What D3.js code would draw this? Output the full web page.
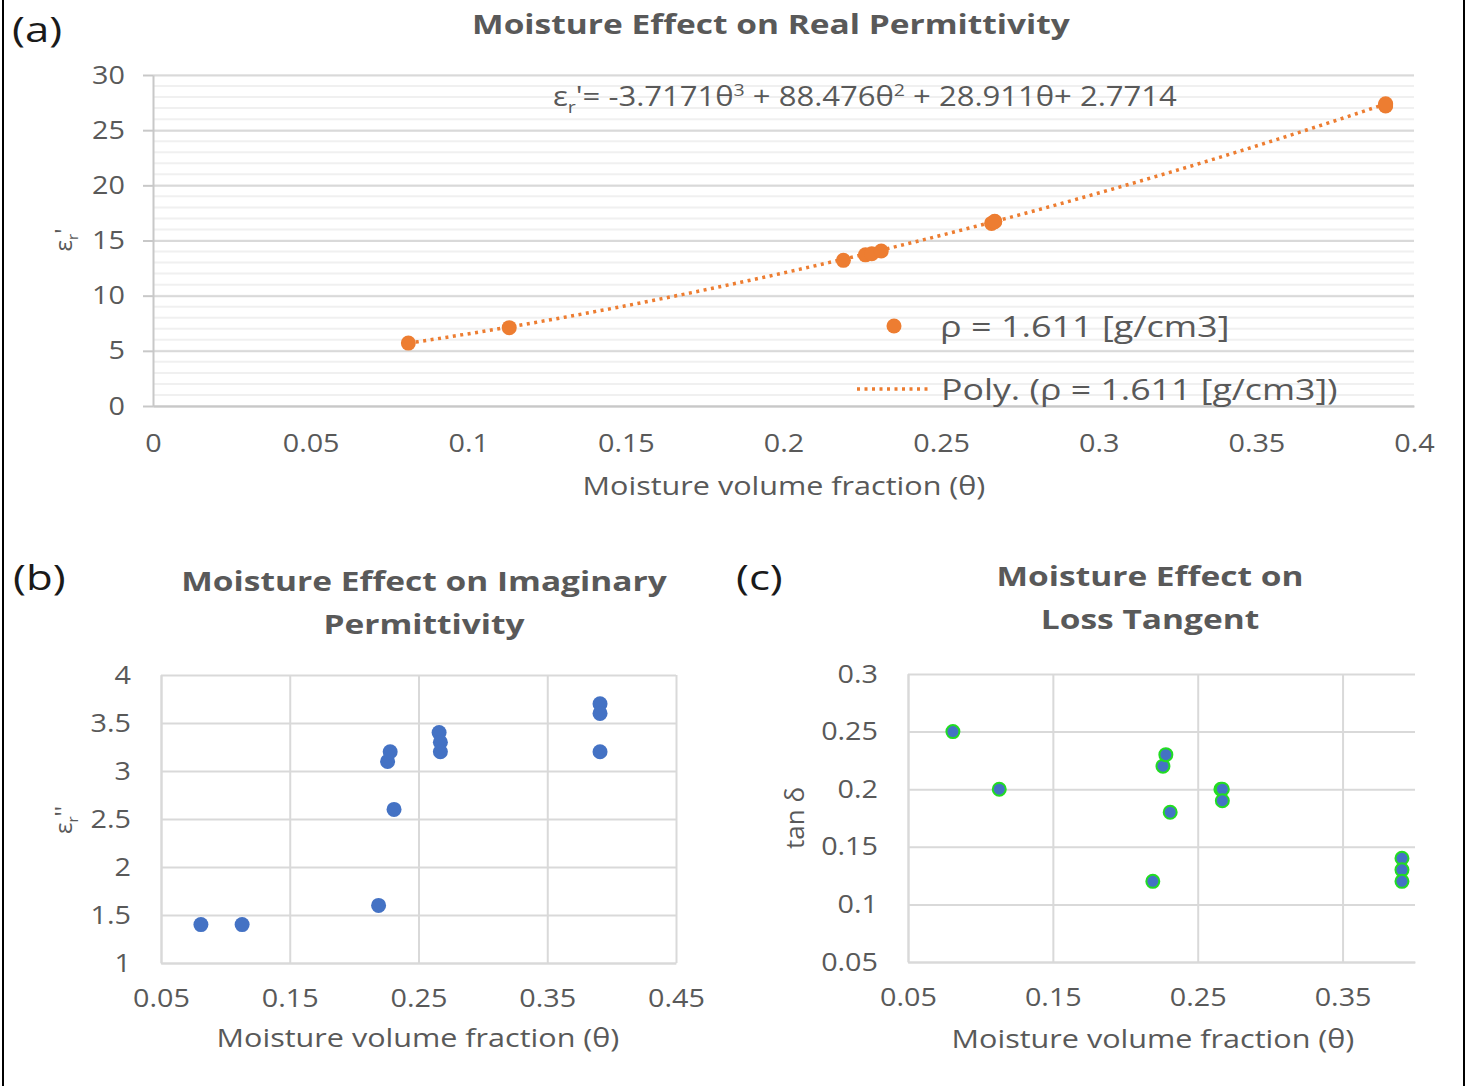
<!DOCTYPE html>
<html>
<head>
<meta charset="utf-8">
<script src="https://cdn.jsdelivr.net/npm/d3@7"></script>
<style>
body { margin: 0; background: #fff; }
svg { display: block; }
text { font-family: 'Open Sans', sans-serif; fill: #595959; }
</style>
</head>
<body>
<svg width="1467" height="1086"></svg>
<script>
// data
var theta    = [0.081, 0.113, 0.219, 0.226, 0.228, 0.231, 0.266, 0.267, 0.267, 0.391, 0.391, 0.391];
var epsReal  = [5.7, 7.1, 13.2, 13.7, 13.8, 14.05, 16.55, 16.7, 16.75, 27.2, 27.3, 27.4];
var epsImag  = [1.4, 1.4, 1.6, 3.1, 3.2, 2.6, 3.4, 3.3, 3.2, 3.7, 3.6, 3.2];
var lossTan  = [0.25, 0.2, 0.12, 0.22, 0.23, 0.18, 0.2, 0.2, 0.19, 0.14, 0.13, 0.12];
// Excel poly trendline coefficients (θ^3, θ^2, θ, 1)
var polyCoef = [-3.7171, 88.476, 28.911, 2.7714];

var xTicksA = [0, 0.05, 0.1, 0.15, 0.2, 0.25, 0.3, 0.35, 0.4];
var yTicksA = [0, 5, 10, 15, 20, 25, 30];
var xTicksB = [0.05, 0.15, 0.25, 0.35, 0.45];
var yTicksB = [1, 1.5, 2, 2.5, 3, 3.5, 4];
var xTicksC = [0.05, 0.15, 0.25, 0.35];
var yTicksC = [0.05, 0.1, 0.15, 0.2, 0.25, 0.3];

var svg = d3.select("svg");
svg.append("rect").attr("width", 1467).attr("height", 1086).attr("fill", "#fff");

// frame
svg.append("line").attr("x1", 3).attr("x2", 3).attr("y1", 0).attr("y2", 1086)
    .attr("stroke", "#000").attr("stroke-width", 2);
svg.append("line").attr("x1", 1464).attr("x2", 1464).attr("y1", 0).attr("y2", 1086)
    .attr("stroke", "#000").attr("stroke-width", 2);

var gridCol = "#d9d9d9", minorCol = "#f0f0f0", axisCol = "#c8c8c8";

// the source picture is a bit wider than tall, stretch text horizontally
function hs(sel, k){
    sel.each(function(){
        var t = d3.select(this);
        var x = +t.attr("x") || 0;
        t.attr("x", x / k).attr("transform", "scale(" + k + ",1)");
    });
}

function styleAxis(g, size){
    g.selectAll("text").style("font-size", size + "px").attr("fill", "#595959")
        .style("font-family", "'Open Sans', sans-serif");
    g.select(".domain").attr("stroke", axisCol).attr("stroke-width", 2);
    g.selectAll(".tick line").attr("stroke", axisCol).attr("stroke-width", 2);
    hs(g.selectAll("text"), 1.15);
}

function panelLabel(txt, x, y){
    svg.append("text").attr("x", x).attr("y", y).style("font-size", "35px")
        .style("fill", "#1a1a1a").text(txt).call(hs, 1.25);
}

// ---------------- (a) ----------------
var xA = d3.scaleLinear().domain([0, 0.4]).range([153, 1414]);
var yA = d3.scaleLinear().domain([0, 30]).range([406, 75]);
var gA = svg.append("g");

gA.selectAll("line.minor")
    .data(yA.ticks(30))
    .enter().append("line")
    .attr("class", "minor")
    .attr("x1", xA(0)).attr("x2", xA(0.4))
    .attr("y1", function(d){ return yA(d) }).attr("y2", function(d){ return yA(d) })
    .attr("stroke", minorCol).attr("stroke-width", 2);

gA.append("g")
    .attr("transform", "translate(" + xA(0) + ",0)")
    .call(d3.axisLeft(yA).tickValues(yTicksA).tickSize(-(xA(0.4) - xA(0))).tickFormat(""))
    .call(function(g){
        g.select(".domain").remove();
        g.selectAll(".tick line").attr("stroke", gridCol).attr("stroke-width", 2);
    });

var axAx = gA.append("g")
    .attr("transform", "translate(0," + yA(0) + ")")
    .call(d3.axisBottom(xA).tickValues(xTicksA).tickSize(0).tickSizeOuter(0).tickPadding(28)
        .tickFormat(function(d){ return String(d) }));
styleAxis(axAx, 25);

var axAy = gA.append("g")
    .attr("transform", "translate(" + xA(0) + ",0)")
    .call(d3.axisLeft(yA).tickValues(yTicksA).tickSize(10).tickSizeOuter(0).tickPadding(18));
styleAxis(axAy, 25);

// trendline
var tr = d3.range(0, 101).map(function(i){
    var t = d3.min(theta) + (d3.max(theta) - d3.min(theta)) * i / 100;
    return [t, polyCoef[0]*t*t*t + polyCoef[1]*t*t + polyCoef[2]*t + polyCoef[3]];
});
gA.append("path")
    .datum(tr)
    .attr("d", d3.line().x(function(d){ return xA(d[0]) }).y(function(d){ return yA(d[1]) }))
    .attr("fill", "none").attr("stroke", "#ed7d31").attr("stroke-width", 3.5)
    .attr("stroke-dasharray", "3,4.5");

gA.selectAll("circle.pt")
    .data(d3.zip(theta, epsReal))
    .enter().append("circle")
    .attr("class", "pt")
    .attr("cx", function(d){ return xA(d[0]) })
    .attr("cy", function(d){ return yA(d[1]) })
    .attr("r", 7.5)
    .attr("fill", "#ed7d31");

// equation
var eq = gA.append("text").attr("x", 553).attr("y", 106).style("font-size", "27px");
eq.append("tspan").text("ε");
eq.append("tspan").attr("dy", 7).style("font-size", "17px").text("r");
eq.append("tspan").attr("dy", -7).text("'= -3.7171θ");
eq.append("tspan").attr("dy", -10).style("font-size", "17px").text("3");
eq.append("tspan").attr("dy", 10).text(" + 88.476θ");
eq.append("tspan").attr("dy", -10).style("font-size", "17px").text("2");
eq.append("tspan").attr("dy", 10).text(" + 28.911θ+ 2.7714");
eq.call(hs, 1.15);

// legend
gA.append("circle").attr("cx", 894).attr("cy", 326).attr("r", 7.5).attr("fill", "#ed7d31");
gA.append("text").attr("x", 940).attr("y", 337).style("font-size", "30px")
    .text("ρ = 1.611 [g/cm3]").call(hs, 1.2);
gA.append("line").attr("x1", 857).attr("x2", 928).attr("y1", 389).attr("y2", 389)
    .attr("stroke", "#ed7d31").attr("stroke-width", 3.5).attr("stroke-dasharray", "3,4.5");
gA.append("text").attr("x", 941).attr("y", 400).style("font-size", "30px")
    .text("Poly. (ρ = 1.611 [g/cm3])").call(hs, 1.19);

gA.append("text").attr("x", 771).attr("y", 34).attr("text-anchor", "middle")
    .style("font-size", "27px").style("font-weight", "bold")
    .text("Moisture Effect on Real Permittivity").call(hs, 1.24);
gA.append("text").attr("x", 784).attr("y", 495).attr("text-anchor", "middle")
    .style("font-size", "26px").text("Moisture volume fraction (θ)").call(hs, 1.175);

var ylA = gA.append("text").attr("transform", "translate(72,240) rotate(-90)")
    .attr("text-anchor", "middle").style("font-size", "24px");
ylA.append("tspan").text("ε");
ylA.append("tspan").attr("dy", 6).style("font-size", "15px").text("r");
ylA.append("tspan").attr("dy", -6).text("'");

panelLabel("(a)", 12, 42);

// ---------------- (b), (c) ----------------
function smallPanel(cfg){
    var x = d3.scaleLinear().domain(cfg.xDom).range(cfg.xRange);
    var y = d3.scaleLinear().domain(cfg.yDom).range(cfg.yRange);
    var g = svg.append("g");

    g.append("g")
        .attr("transform", "translate(" + cfg.xRange[0] + ",0)")
        .call(d3.axisLeft(y).tickValues(cfg.yTicks).tickSize(-(cfg.xRange[1] - cfg.xRange[0])).tickFormat(""))
        .call(function(s){
            s.select(".domain").remove();
            s.selectAll(".tick line").attr("stroke", gridCol).attr("stroke-width", 2);
        });
    g.append("g")
        .attr("transform", "translate(0," + cfg.yRange[0] + ")")
        .call(d3.axisBottom(x).tickValues(cfg.xTicks).tickSize(-(cfg.yRange[0] - cfg.yRange[1])).tickFormat(""))
        .call(function(s){
            s.select(".domain").remove();
            s.selectAll(".tick line").attr("stroke", gridCol).attr("stroke-width", 2);
        });

    var ax = g.append("g")
        .attr("transform", "translate(0," + cfg.yRange[0] + ")")
        .call(d3.axisBottom(x).tickValues(cfg.xTicks).tickSize(0).tickSizeOuter(0).tickPadding(26)
            .tickFormat(function(d){ return String(d) }));
    styleAxis(ax, 25);
    ax.select(".domain").attr("stroke", gridCol);
    var ay = g.append("g")
        .attr("transform", "translate(" + cfg.xRange[0] + ",0)")
        .call(d3.axisLeft(y).tickValues(cfg.yTicks).tickSize(0).tickSizeOuter(0).tickPadding(30)
            .tickFormat(function(d){ return String(d) }));
    styleAxis(ay, 25);
    ay.select(".domain").attr("stroke", gridCol);

    g.selectAll("circle.pt")
        .data(d3.zip(theta, cfg.values))
        .enter().append("circle")
        .attr("class", "pt")
        .attr("cx", function(d){ return x(d[0]) })
        .attr("cy", function(d){ return y(d[1]) })
        .attr("r", cfg.r)
        .attr("fill", "#4472c4")
        .attr("stroke", cfg.stroke || "none")
        .attr("stroke-width", 2);

    cfg.title.forEach(function(t, i){
        g.append("text").attr("x", cfg.titleX).attr("y", cfg.titleY + i * 43)
            .attr("text-anchor", "middle").style("font-size", "27px").style("font-weight", "bold")
            .text(t).call(hs, 1.24);
    });
    g.append("text").attr("x", cfg.xLabelX).attr("y", cfg.xLabelY).attr("text-anchor", "middle")
        .style("font-size", "26px").text("Moisture volume fraction (θ)").call(hs, 1.175);
    return g;
}

var gB = smallPanel({
    xDom: [0.05, 0.45], xRange: [161, 676],
    yDom: [1, 4], yRange: [963, 675],
    xTicks: xTicksB, yTicks: yTicksB,
    values: epsImag, r: 7.5,
    title: ["Moisture Effect on Imaginary", "Permittivity"], titleX: 424, titleY: 591,
    xLabelX: 418, xLabelY: 1047
});
var ylB = gB.append("text").attr("transform", "translate(72,820) rotate(-90)")
    .attr("text-anchor", "middle").style("font-size", "24px");
ylB.append("tspan").text("ε");
ylB.append("tspan").attr("dy", 6).style("font-size", "15px").text("r");
ylB.append("tspan").attr("dy", -6).text("''");
panelLabel("(b)", 13, 590);

var gC = smallPanel({
    xDom: [0.05, 0.4], xRange: [908, 1415],
    yDom: [0.05, 0.3], yRange: [962, 674],
    xTicks: xTicksC, yTicks: yTicksC,
    values: lossTan, r: 6.5, stroke: "#22dd22",
    title: ["Moisture Effect on", "Loss Tangent"], titleX: 1150, titleY: 586,
    xLabelX: 1153, xLabelY: 1048
});
gC.append("text").attr("transform", "translate(804,818) rotate(-90)")
    .attr("text-anchor", "middle").style("font-size", "26px").text("tan δ");
panelLabel("(c)", 736, 590);
</script>
</body>
</html>
